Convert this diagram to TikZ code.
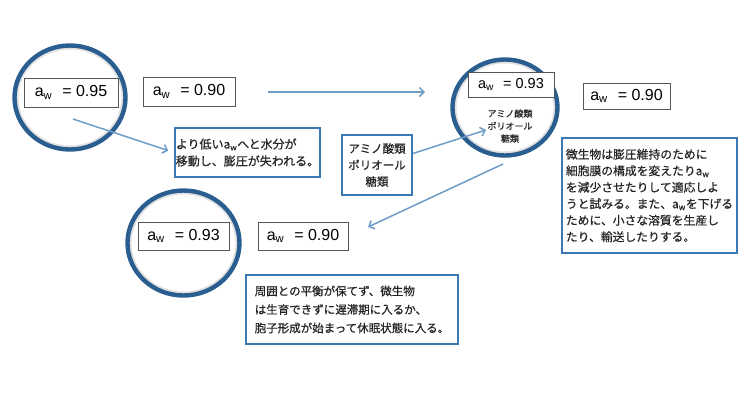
\documentclass[tikz,border=0pt]{standalone}
\usepackage{fontspec}
\setmainfont{Liberation Sans}
\newfontfamily\jp[FakeBold=0.6]{Noto Sans CJK JP}
\usetikzlibrary{shapes.geometric,arrows.meta}
\definecolor{ringblue}{HTML}{2A5E90}
\definecolor{boxblue}{HTML}{3A78B6}
\definecolor{arrowblue}{HTML}{6E9DC8}
\definecolor{awgray}{HTML}{555555}

\begin{document}
\begin{tikzpicture}[x=1pt,y=-1pt,
	cell/.style 2 args={ellipse,draw=ringblue,line width=4.4pt,inner sep=0pt,
		minimum width=#1,minimum height=#2,
		path picture={\draw[black!12,line width=8pt] (path picture bounding box.center) ellipse [x radius=0.5*#1,y radius=0.5*#2];}},
	awbox/.style={draw=awgray,line width=0.9pt,fill=white,inner sep=0pt},
	note/.style={draw=boxblue,line width=2pt,fill=white,align=left,inner sep=0pt,
		text=black!85,font=\jp\fontsize{12}{17}\selectfont},
	link/.style={draw=arrowblue,line width=1.5pt,-{Straight Barb[length=4.5pt,width=9pt]}}]
	\useasboundingbox (0,0) rectangle (750,400);
	% the three cells
	\node[cell={111pt}{104pt}] (c1) at (70,97.5) {};
	\node[cell={105pt}{96pt}] (c2) at (505,107.5) {};
	\node[cell={112pt}{105pt}] (c3) at (183.5,243) {};
	% water activity labels
	\foreach \name/\x/\y/\w/\h/\fs/\val in {
		w95/71/92.5/94/29/16/0.95,
		w90a/189/91.5/92/29/16/0.90,
		w93a/511/84.5/86/25/14.5/0.93,
		w90b/626.5/96/87/26/16/0.90,
		w93b/183.5/236/91/28/16/0.93,
		w90c/303/236/90/28/16/0.90} {
		\node[awbox,minimum width=\w pt,minimum height=\h pt,font=\fontsize{\fs}{18}\selectfont] (\name) at (\x,\y) {a\textsubscript{w}\hspace{0.35em} = \val};
	}
	\node[text=black!85,font=\jp\fontsize{9}{12.5}\selectfont,align=center] (c2txt) at (510,126) {アミノ酸類\\ポリオール\\糖類};
	% notes
	\node[note,minimum width=145pt,minimum height=49pt] (low) at (247.5,152.5) {より低いa\textsubscript{w}へと水分が\\移動し、膨圧が失われる。};
	\node[note,align=center,minimum width=70pt,minimum height=60pt,font=\jp\fontsize{11.5}{16.5}\selectfont] (amino) at (377,165) {アミノ酸類\\ポリオール\\糖類};
	\node[note,minimum width=175pt,minimum height=115pt,font=\jp\fontsize{11.8}{16.5}\selectfont] (adapt) at (649.5,195.5) {微生物は膨圧維持のために\\細胞膜の構成を変えたりa\textsubscript{w}\\を減少させたりして適応しよ\\うと試みる。また、a\textsubscript{w}を下げる\\ために、小さな溶質を生産し\\たり、輸送したりする。};
	\node[note,minimum width=212pt,minimum height=69pt,font=\jp\fontsize{11.5}{18.5}\selectfont] (dorm) at (352,309.5) {周囲との平衡が保てず、微生物\\は生育できずに遅滞期に入るか、\\胞子形成が始まって休眠状態に入る。};
	% arrows
	\coordinate (c1in) at (73,119);
	\coordinate (tstart) at (268,92);
	\coordinate (tend) at (425,92);
	\coordinate (c2in) at (486,130);
	\coordinate (c2out) at (503,164);
	\coordinate (c3in) at (368,227);
	\draw[link,shorten >=6pt] (c1in) -- (low.west);
	\draw[link] (tstart) -- (tend);
	\draw[link] (amino) -- (c2in);
	\draw[link] (c2out) -- (c3in);
\end{tikzpicture}
\end{document}
